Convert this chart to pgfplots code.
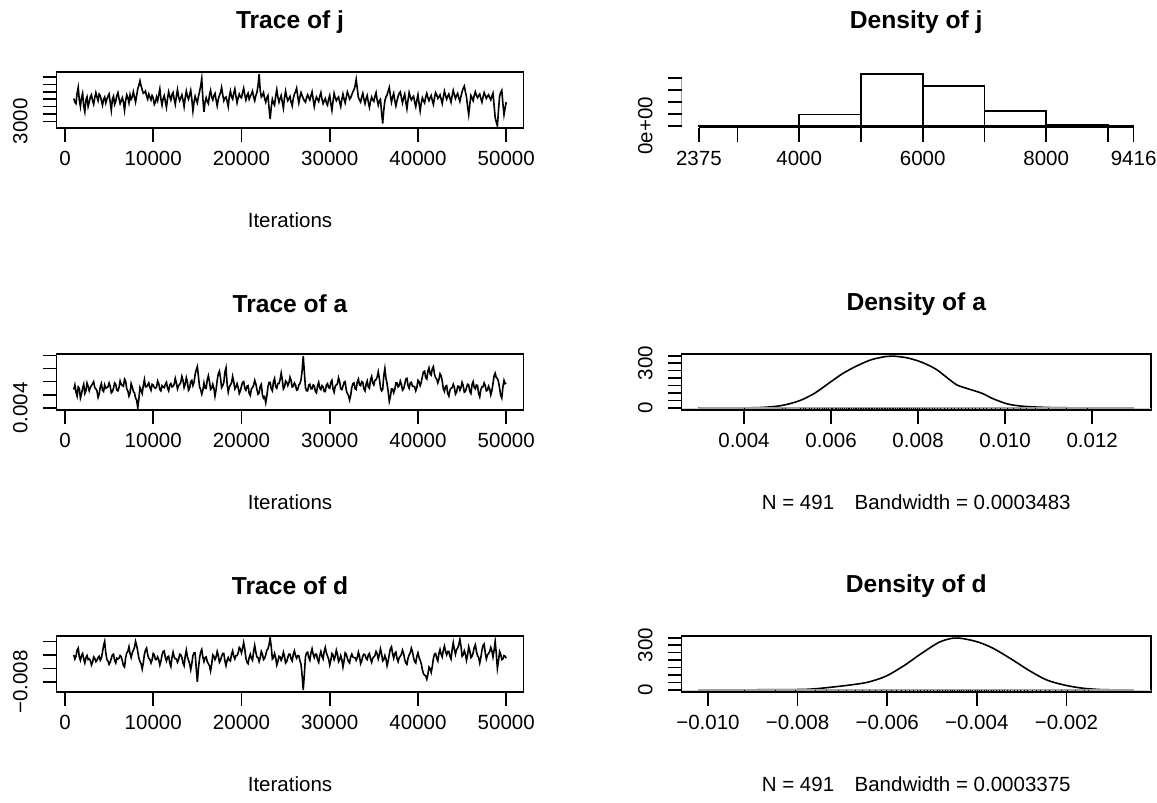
\documentclass[border=0pt]{standalone}
\usepackage{fontspec}
\setmainfont{Liberation Sans}
\usepackage{pgfplots}
\pgfplotsset{compat=1.18}

\pgfplotsset{
  rpanel/.style={
    scale only axis, height=28pt,
    enlargelimits=false, scaled ticks=false,
    axis line style={line width=0.8pt},
    every tick/.style={black, line width=0.8pt},
    tick align=outside, major tick length=7pt,
    xtick pos=left, ytick pos=left,
    tick label style={font=\fontsize{10.25}{12}\selectfont, inner sep=0pt},
    xticklabel style={anchor=north},
    yticklabel style={rotate=90, anchor=south},
    xticklabel shift=4.3pt, yticklabel shift=7.3pt,
    title style={font=\bfseries\fontsize{12.3}{14}\selectfont, at={(axis description cs:0.5,1)}, anchor=center, yshift=19pt},
    xlabel style={font=\fontsize{10.25}{12}\selectfont, at={(axis description cs:0.5,0)}, anchor=center, yshift=-46pt},
  },
  trace/.style={rpanel, width=233.5pt, xmin=-960, xmax=51960,
    xtick={0,10000,20000,30000,40000,50000},
    xticklabels={0,10000,20000,30000,40000,50000}, xlabel={Iterations}},
  dens/.style={rpanel, width=234.75pt},
  rline/.style={black, line width=0.8pt},
  rug/.style={only marks, mark=|, mark size=0.6pt, black, mark options={line width=0.4pt}},
}

\begin{document}
\begin{tikzpicture}
\path[use as bounding box] (0,0) rectangle (578.5pt,401.5pt);

% ---- row 1: j
\begin{axis}[trace, at={(28.25pt,337.5pt)}, anchor=south west, title={Trace of j},
  ymin=2093, ymax=9698, ytick={3000,4000,5000,6000,7000,8000,9000}, yticklabels={3000,,,,,,}]
\addplot[rline] coordinates {
(1000,6100) (1125,5600) (1250,5400) (1375,6800) (1500,7600) (1625,5900) (1750,5000) (1875,6200)
(2000,6800) (2125,5100) (2250,4300) (2375,5900) (2500,6300) (2625,5000) (2750,5600) (2875,6300)
(3000,6600) (3125,5800) (3250,5300) (3375,6200) (3500,6900) (3625,6300) (3750,5800) (3875,6700)
(4000,6500) (4125,5800) (4250,5200) (4375,6000) (4500,6300) (4625,5500) (4750,6000) (4875,6400)
(5000,6700) (5125,5600) (5250,4500) (5375,6000) (5500,6400) (5625,5300) (5750,5700) (5875,6500)
(6000,6900) (6125,6100) (6250,5400) (6375,5800) (6500,6200) (6625,5600) (6750,4500) (6875,5800)
(7000,6600) (7125,6200) (7250,5500) (7375,6600) (7500,6000) (7625,6300) (7750,7000) (7875,6300)
(8000,5600) (8125,6500) (8250,7400) (8375,7900) (8500,8500) (8625,7800) (8750,7300) (8875,6800)
(9000,6900) (9125,7100) (9250,6400) (9375,6000) (9500,6700) (9625,6300) (9750,5900) (9875,6500)
(10000,6200) (10125,5300) (10250,5600) (10375,6300) (10500,5800) (10625,6600) (10750,7400) (10875,6000)
(11000,5200) (11125,6100) (11250,6500) (11375,5700) (11500,4900) (11625,6100) (11750,7000) (11875,6400)
(12000,5900) (12125,6600) (12250,6900) (12375,6000) (12500,5300) (12625,6400) (12750,7300) (12875,6300)
(13000,5800) (13125,6200) (13250,6600) (13375,5900) (13500,5000) (13625,6200) (13750,7100) (13875,6400)
(14000,6000) (14125,6600) (14250,7200) (14375,6000) (14500,4400) (14625,5600) (14750,6400) (14875,5900)
(15000,5500) (15125,6400) (15250,7000) (15375,7800) (15500,8800) (15625,6100) (15750,4300) (15875,5600)
(16000,6200) (16125,5700) (16250,5400) (16375,6600) (16500,7200) (16625,6300) (16750,5900) (16875,6500)
(17000,6800) (17125,5900) (17250,5100) (17375,6000) (17500,6500) (17625,6900) (17750,7600) (17875,6600)
(18000,5800) (18125,6200) (18250,6300) (18375,5700) (18500,5000) (18625,6400) (18750,7100) (18875,6300)
(19000,6000) (19125,6800) (19250,7400) (19375,6400) (19500,5500) (19625,6200) (19750,6700) (19875,6300)
(20000,6200) (20125,6900) (20250,7500) (20375,6600) (20500,5900) (20625,6500) (20750,6800) (20875,6000)
(21000,6400) (21125,6700) (21250,7100) (21375,6300) (21500,5800) (21625,6500) (21750,6900) (21875,7800)
(22000,9416) (22125,7200) (22250,6300) (22375,6500) (22500,6900) (22625,6100) (22750,5600) (22875,6200)
(23000,6500) (23125,4800) (23250,3300) (23375,4900) (23500,6000) (23625,5500) (23750,5200) (23875,6400)
(24000,7300) (24125,6300) (24250,5600) (24375,6100) (24500,6500) (24625,5600) (24750,4800) (24875,6200)
(25000,7100) (25125,6300) (25250,5800) (25375,6100) (25500,6400) (25625,5600) (25750,5100) (25875,6100)
(26000,6700) (26125,7000) (26250,7500) (26375,6400) (26500,5500) (26625,6300) (26750,6900) (26875,6500)
(27000,6100) (27125,5800) (27250,5600) (27375,6200) (27500,6600) (27625,6200) (27750,5900) (27875,6500)
(28000,7000) (28125,6000) (28250,5000) (28375,5800) (28500,6300) (28625,6000) (28750,5700) (28875,6400)
(29000,6900) (29125,6000) (29250,5400) (29375,5800) (29500,6100) (29625,5500) (29750,5200) (29875,6000)
(30000,6500) (30125,5400) (30250,4500) (30375,5700) (30500,6800) (30625,6200) (30750,5800) (30875,6100)
(31000,6300) (31125,5600) (31250,5000) (31375,6000) (31500,6700) (31625,6000) (31750,5500) (31875,6300)
(32000,7000) (32125,6600) (32250,6000) (32375,6200) (32500,6600) (32625,7000) (32750,7300) (32875,7800)
(33000,8700) (33125,7400) (33250,6200) (33375,5900) (33500,5600) (33625,6300) (33750,6800) (33875,6000)
(34000,5400) (34125,6100) (34250,6500) (34375,5600) (34500,4900) (34625,5700) (34750,6300) (34875,5900)
(35000,5700) (35125,6400) (35250,6900) (35375,5900) (35500,5200) (35625,5800) (35750,6000) (35875,4200)
(36000,2700) (36125,4500) (36250,5800) (36375,6300) (36500,6600) (36625,7100) (36750,7600) (36875,6500)
(37000,5600) (37125,6300) (37250,6800) (37375,5800) (37500,5100) (37625,5800) (37750,6400) (37875,6800)
(38000,7000) (38125,6200) (38250,5500) (38375,6200) (38500,6700) (38625,5600) (38750,4700) (38875,5900)
(39000,6900) (39125,6300) (39250,5900) (39375,6200) (39500,6400) (39625,5600) (39750,5000) (39875,5900)
(40000,6600) (40125,5400) (40250,4400) (40375,5500) (40500,6200) (40625,5800) (40750,5500) (40875,6300)
(41000,6800) (41125,6200) (41250,5800) (41375,6200) (41500,6500) (41625,5800) (41750,5300) (41875,6200)
(42000,6900) (42125,6600) (42250,6100) (42375,6300) (42500,6600) (42625,6000) (42750,5400) (42875,6300)
(43000,7100) (43125,6500) (43250,6000) (43375,6400) (43500,6700) (43625,6100) (43750,5600) (43875,6500)
(44000,7200) (44125,6600) (44250,6100) (44375,6500) (44500,6800) (44625,6200) (44750,5700) (44875,6400)
(45000,7000) (45125,7500) (45250,7800) (45375,7000) (45500,6300) (45625,5000) (45750,3900) (45875,5300)
(46000,6500) (46125,6200) (46250,5800) (46375,6500) (46500,7000) (46625,6500) (46750,6200) (46875,6500)
(47000,6700) (47125,6100) (47250,5600) (47375,6300) (47500,6900) (47625,6500) (47750,6100) (47875,6400)
(48000,6600) (48125,6200) (48250,5900) (48375,6400) (48500,6800) (48625,5200) (48750,3500) (48875,2900)
(49000,2375) (49125,4500) (49250,6400) (49375,6900) (49500,7200) (49625,5400) (49750,3900) (49875,4800)
(50000,5600)
};
\end{axis}

\begin{axis}[dens, at={(340.75pt,337.5pt)}, anchor=south west, title={Density of j},
  axis x line*=bottom, axis y line*=left, axis line style={draw=none},
  xmin=2093.4, xmax=9697.6, ymin=-0.174, ymax=4.524,
  xtick={2375,3000,4000,5000,6000,7000,8000,9000,9416},
  xticklabels={2375,,4000,,6000,,8000,,9416},
  ytick={0,1,2,3,4}, yticklabels={0e+00,,,,}]
\addplot[ybar interval, draw=black, fill=none, line width=0.8pt] coordinates {
(2375,0.02) (4000,0.95) (5000,4.35) (6000,3.33) (7000,1.24) (8000,0.09) (9000,0.05) (9416,0.05)};
\draw[line width=0.8pt] (axis cs:2375,-0.174) -- (axis cs:9416,-0.174);
\draw[line width=0.8pt] (axis cs:2093.4,0) -- (axis cs:2093.4,4);
\end{axis}

% ---- row 2: a
\begin{axis}[trace, at={(28.25pt,196.5pt)}, anchor=south west, title={Trace of a},
  ymin=0.003684, ymax=0.012216, ytick={0.004,0.006,0.008,0.010,0.012}, yticklabels={0.004,,,,}]
\addplot[rline] coordinates {
(1000,68e-4) (1125,75e-4) (1250,64e-4) (1375,58e-4) (1500,72e-4) (1625,70e-4) (1750,55e-4) (1875,61e-4)
(2000,70e-4) (2125,76e-4) (2250,62e-4) (2375,66e-4) (2500,78e-4) (2625,73e-4) (2750,66e-4) (2875,71e-4)
(3000,74e-4) (3125,77e-4) (3250,80e-4) (3375,71e-4) (3500,69e-4) (3625,66e-4) (3750,56e-4) (3875,61e-4)
(4000,72e-4) (4125,77e-4) (4250,67e-4) (4375,65e-4) (4500,75e-4) (4625,70e-4) (4750,71e-4) (4875,72e-4)
(5000,78e-4) (5125,73e-4) (5250,63e-4) (5375,65e-4) (5500,70e-4) (5625,78e-4) (5750,76e-4) (5875,67e-4)
(6000,66e-4) (6125,71e-4) (6250,81e-4) (6375,76e-4) (6500,74e-4) (6625,73e-4) (6750,84e-4) (6875,81e-4)
(7000,69e-4) (7125,66e-4) (7250,58e-4) (7375,63e-4) (7500,77e-4) (7625,72e-4) (7750,65e-4) (7875,63e-4)
(8000,55e-4) (8125,52e-4) (8250,40e-4) (8375,54e-4) (8500,71e-4) (8625,67e-4) (8750,62e-4) (8875,74e-4)
(9000,83e-4) (9125,72e-4) (9250,72e-4) (9375,75e-4) (9500,78e-4) (9625,71e-4) (9750,67e-4) (9875,76e-4)
(10000,75e-4) (10125,71e-4) (10250,70e-4) (10375,72e-4) (10500,81e-4) (10625,77e-4) (10750,68e-4) (10875,66e-4)
(11000,74e-4) (11125,72e-4) (11250,71e-4) (11375,76e-4) (11500,79e-4) (11625,70e-4) (11750,66e-4) (11875,75e-4)
(12000,77e-4) (12125,72e-4) (12250,73e-4) (12375,76e-4) (12500,85e-4) (12625,78e-4) (12750,69e-4) (12875,74e-4)
(13000,76e-4) (13125,79e-4) (13250,88e-4) (13375,82e-4) (13500,71e-4) (13625,76e-4) (13750,86e-4) (13875,79e-4)
(14000,67e-4) (14125,70e-4) (14250,80e-4) (14375,82e-4) (14500,74e-4) (14625,79e-4) (14750,91e-4) (14875,98e-4)
(15000,103e-4) (15125,88e-4) (15250,72e-4) (15375,68e-4) (15500,61e-4) (15625,67e-4) (15750,78e-4) (15875,70e-4)
(16000,70e-4) (16125,83e-4) (16250,89e-4) (16375,80e-4) (16500,68e-4) (16625,70e-4) (16750,76e-4) (16875,70e-4)
(17000,58e-4) (17125,68e-4) (17250,82e-4) (17375,92e-4) (17500,96e-4) (17625,86e-4) (17750,71e-4) (17875,74e-4)
(18000,79e-4) (18125,95e-4) (18250,101e-4) (18375,76e-4) (18500,64e-4) (18625,72e-4) (18750,75e-4) (18875,78e-4)
(19000,88e-4) (19125,80e-4) (19250,69e-4) (19375,72e-4) (19500,77e-4) (19625,71e-4) (19750,62e-4) (19875,66e-4)
(20000,73e-4) (20125,79e-4) (20250,80e-4) (20375,70e-4) (20500,67e-4) (20625,73e-4) (20750,74e-4) (20875,62e-4)
(21000,59e-4) (21125,69e-4) (21250,71e-4) (21375,74e-4) (21500,82e-4) (21625,77e-4) (21750,68e-4) (21875,61e-4)
(22000,63e-4) (22125,73e-4) (22250,76e-4) (22375,60e-4) (22500,55e-4) (22625,57e-4) (22750,48e-4) (22875,58e-4)
(23000,72e-4) (23125,79e-4) (23250,79e-4) (23375,69e-4) (23500,66e-4) (23625,80e-4) (23750,85e-4) (23875,72e-4)
(24000,70e-4) (24125,77e-4) (24250,77e-4) (24375,83e-4) (24500,93e-4) (24625,83e-4) (24750,69e-4) (24875,72e-4)
(25000,81e-4) (25125,79e-4) (25250,74e-4) (25375,78e-4) (25500,87e-4) (25625,82e-4) (25750,72e-4) (25875,73e-4)
(26000,78e-4) (26125,75e-4) (26250,67e-4) (26375,68e-4) (26500,75e-4) (26625,77e-4) (26750,83e-4) (26875,97e-4)
(27000,119e-4) (27125,95e-4) (27250,71e-4) (27375,66e-4) (27500,66e-4) (27625,75e-4) (27750,76e-4) (27875,69e-4)
(28000,69e-4) (28125,75e-4) (28250,74e-4) (28375,65e-4) (28500,63e-4) (28625,74e-4) (28750,79e-4) (28875,70e-4)
(29000,68e-4) (29125,74e-4) (29250,72e-4) (29375,65e-4) (29500,65e-4) (29625,75e-4) (29750,77e-4) (29875,71e-4)
(30000,70e-4) (30125,79e-4) (30250,82e-4) (30375,69e-4) (30500,64e-4) (30625,73e-4) (30750,75e-4) (30875,77e-4)
(31000,86e-4) (31125,80e-4) (31250,69e-4) (31375,68e-4) (31500,73e-4) (31625,79e-4) (31750,80e-4) (31875,67e-4)
(32000,62e-4) (32125,59e-4) (32250,52e-4) (32375,59e-4) (32500,71e-4) (32625,77e-4) (32750,78e-4) (32875,69e-4)
(33000,68e-4) (33125,80e-4) (33250,84e-4) (33375,75e-4) (33500,74e-4) (33625,80e-4) (33750,79e-4) (33875,69e-4)
(34000,66e-4) (34125,76e-4) (34250,81e-4) (34375,72e-4) (34500,70e-4) (34625,83e-4) (34750,88e-4) (34875,78e-4)
(35000,75e-4) (35125,82e-4) (35250,83e-4) (35375,87e-4) (35500,95e-4) (35625,85e-4) (35750,71e-4) (35875,66e-4)
(36000,68e-4) (36125,89e-4) (36250,100e-4) (36375,85e-4) (36500,77e-4) (36625,65e-4) (36750,50e-4) (36875,57e-4)
(37000,69e-4) (37125,69e-4) (37250,63e-4) (37375,68e-4) (37500,78e-4) (37625,78e-4) (37750,72e-4) (37875,74e-4)
(38000,81e-4) (38125,76e-4) (38250,67e-4) (38375,69e-4) (38500,76e-4) (38625,84e-4) (38750,85e-4) (38875,74e-4)
(39000,70e-4) (39125,78e-4) (39250,79e-4) (39375,73e-4) (39500,73e-4) (39625,72e-4) (39750,66e-4) (39875,71e-4)
(40000,82e-4) (40125,80e-4) (40250,74e-4) (40375,79e-4) (40500,88e-4) (40625,95e-4) (40750,96e-4) (40875,86e-4)
(41000,84e-4) (41125,96e-4) (41250,101e-4) (41375,92e-4) (41500,90e-4) (41625,100e-4) (41750,103e-4) (41875,91e-4)
(42000,86e-4) (42125,84e-4) (42250,78e-4) (42375,83e-4) (42500,92e-4) (42625,89e-4) (42750,81e-4) (42875,69e-4)
(43000,65e-4) (43125,73e-4) (43250,74e-4) (43375,62e-4) (43500,58e-4) (43625,67e-4) (43750,70e-4) (43875,71e-4)
(44000,76e-4) (44125,71e-4) (44250,61e-4) (44375,64e-4) (44500,73e-4) (44625,73e-4) (44750,67e-4) (44875,71e-4)
(45000,79e-4) (45125,74e-4) (45250,64e-4) (45375,65e-4) (45500,71e-4) (45625,76e-4) (45750,75e-4) (45875,65e-4)
(46000,62e-4) (46125,75e-4) (46250,80e-4) (46375,71e-4) (46500,69e-4) (46625,75e-4) (46750,74e-4) (46875,62e-4)
(47000,57e-4) (47125,68e-4) (47250,72e-4) (47375,72e-4) (47500,78e-4) (47625,74e-4) (47750,66e-4) (47875,67e-4)
(48000,73e-4) (48125,69e-4) (48250,60e-4) (48375,66e-4) (48500,77e-4) (48625,89e-4) (48750,93e-4) (48875,86e-4)
(49000,85e-4) (49125,80e-4) (49250,70e-4) (49375,59e-4) (49500,55e-4) (49625,72e-4) (49750,82e-4) (49875,77e-4)
(50000,78e-4)
};
\end{axis}

\begin{axis}[dens, at={(340.75pt,196.5pt)}, anchor=south west, title={Density of a},
  xmin=0.002564, xmax=0.013352, ymin=-13.9, ymax=361.9,
  xtick={0.004,0.006,0.008,0.010,0.012}, xticklabels={0.004,0.006,0.008,0.010,0.012},
  ytick={0,50,100,150,200,250,300,350}, yticklabels={0,,,,,,300,},
  xlabel={N = 491\quad Bandwidth = 0.0003483}]
\addplot[rline, smooth] coordinates {
(0.00295,0) (0.0040,0.3) (0.00439,2.8) (0.00471,9.9) (0.00496,21.8) (0.00529,50) (0.00562,98) (0.00594,164)
(0.00627,231) (0.0066,283) (0.00693,324) (0.00726,345) (0.00742,348) (0.00775,336) (0.00808,307) (0.00841,260)
(0.00873,188) (0.0089,153) (0.00914,129) (0.00947,98) (0.00972,62) (0.01005,27) (0.01038,12) (0.01079,5)
(0.01136,1) (0.01296,0)};
\addplot[gray!35, line width=0.4pt] coordinates {(0.002564,0) (0.013352,0)};
\addplot[gray!75, line width=0.8pt] coordinates {(0.00296,0) (0.01296,0)};
\addplot[rug] coordinates {
(40.0e-4,-8) (48.8e-4,-8) (49.5e-4,-8) (53.0e-4,-8) (53.6e-4,-8) (54.2e-4,-8) (55.0e-4,-8) (55.6e-4,-8) (56.1e-4,-8) (56.8e-4,-8)
(57.3e-4,-8) (57.9e-4,-8) (58.4e-4,-8) (58.9e-4,-8) (59.5e-4,-8) (60.0e-4,-8) (60.4e-4,-8) (60.9e-4,-8) (61.3e-4,-8) (61.8e-4,-8)
(62.2e-4,-8) (62.6e-4,-8) (63.0e-4,-8) (63.5e-4,-8) (63.9e-4,-8) (64.3e-4,-8) (64.7e-4,-8) (65.1e-4,-8) (65.5e-4,-8) (65.9e-4,-8)
(66.3e-4,-8) (66.7e-4,-8) (67.0e-4,-8) (67.4e-4,-8) (67.8e-4,-8) (68.2e-4,-8) (68.5e-4,-8) (68.9e-4,-8) (69.3e-4,-8) (69.6e-4,-8)
(70.0e-4,-8) (70.4e-4,-8) (70.7e-4,-8) (71.1e-4,-8) (71.5e-4,-8) (71.8e-4,-8) (72.2e-4,-8) (72.6e-4,-8) (72.9e-4,-8) (73.3e-4,-8)
(73.7e-4,-8) (74.0e-4,-8) (74.4e-4,-8) (74.8e-4,-8) (75.2e-4,-8) (75.6e-4,-8) (76.0e-4,-8) (76.4e-4,-8) (76.8e-4,-8) (77.2e-4,-8)
(77.6e-4,-8) (78.1e-4,-8) (78.5e-4,-8) (79.0e-4,-8) (79.4e-4,-8) (79.9e-4,-8) (80.4e-4,-8) (80.9e-4,-8) (81.4e-4,-8) (82.0e-4,-8)
(82.6e-4,-8) (83.2e-4,-8) (83.8e-4,-8) (84.5e-4,-8) (85.2e-4,-8) (86.0e-4,-8) (86.8e-4,-8) (87.6e-4,-8) (88.4e-4,-8) (89.2e-4,-8)
(90.0e-4,-8) (90.8e-4,-8) (91.6e-4,-8) (92.4e-4,-8) (93.2e-4,-8) (94.0e-4,-8) (94.9e-4,-8) (95.8e-4,-8) (96.8e-4,-8) (97.8e-4,-8)
(99.0e-4,-8) (100.5e-4,-8) (102.0e-4,-8) (103.5e-4,-8) (105.0e-4,-8) (107.0e-4,-8) (110.0e-4,-8) (114.0e-4,-8) (119.0e-4,-8)
};
\end{axis}

% ---- row 3: d
\begin{axis}[trace, at={(28.25pt,55.5pt)}, anchor=south west, title={Trace of d},
  ymin=-0.009497, ymax=-0.001203, ytick={-0.008,-0.006,-0.004,-0.002}, yticklabels={−0.008,,,}]
\addplot[rline] coordinates {
(1000,-40e-4) (1125,-46e-4) (1250,-42e-4) (1375,-33e-4) (1500,-30e-4) (1625,-43e-4) (1750,-48e-4) (1875,-41e-4)
(2000,-38e-4) (2125,-46e-4) (2250,-52e-4) (2375,-44e-4) (2500,-41e-4) (2625,-47e-4) (2750,-46e-4) (2875,-48e-4)
(3000,-55e-4) (3125,-51e-4) (3250,-43e-4) (3375,-45e-4) (3500,-50e-4) (3625,-48e-4) (3750,-44e-4) (3875,-42e-4)
(4000,-48e-4) (4125,-45e-4) (4250,-36e-4) (4375,-26e-4) (4500,-20e-4) (4625,-37e-4) (4750,-47e-4) (4875,-49e-4)
(5000,-54e-4) (5125,-51e-4) (5250,-45e-4) (5375,-40e-4) (5500,-39e-4) (5625,-48e-4) (5750,-52e-4) (5875,-45e-4)
(6000,-46e-4) (6125,-45e-4) (6250,-41e-4) (6375,-43e-4) (6500,-49e-4) (6625,-56e-4) (6750,-58e-4) (6875,-44e-4)
(7000,-37e-4) (7125,-35e-4) (7250,-28e-4) (7375,-38e-4) (7500,-44e-4) (7625,-37e-4) (7750,-33e-4) (7875,-29e-4)
(8000,-20e-4) (8125,-26e-4) (8250,-35e-4) (8375,-45e-4) (8500,-50e-4) (8625,-53e-4) (8750,-61e-4) (8875,-52e-4)
(9000,-39e-4) (9125,-33e-4) (9250,-30e-4) (9375,-40e-4) (9500,-45e-4) (9625,-47e-4) (9750,-52e-4) (9875,-47e-4)
(10000,-38e-4) (10125,-40e-4) (10250,-47e-4) (10375,-47e-4) (10500,-43e-4) (10625,-47e-4) (10750,-55e-4) (10875,-49e-4)
(11000,-40e-4) (11125,-35e-4) (11250,-34e-4) (11375,-44e-4) (11500,-49e-4) (11625,-43e-4) (11750,-42e-4) (11875,-52e-4)
(12000,-57e-4) (12125,-44e-4) (12250,-36e-4) (12375,-43e-4) (12500,-46e-4) (12625,-46e-4) (12750,-51e-4) (12875,-47e-4)
(13000,-39e-4) (13125,-40e-4) (13250,-44e-4) (13375,-52e-4) (13500,-56e-4) (13625,-42e-4) (13750,-33e-4) (13875,-43e-4)
(14000,-48e-4) (14125,-53e-4) (14250,-62e-4) (14375,-53e-4) (14500,-41e-4) (14625,-37e-4) (14750,-37e-4) (14875,-60e-4)
(15000,-80e-4) (15125,-60e-4) (15250,-45e-4) (15375,-36e-4) (15500,-32e-4) (15625,-43e-4) (15750,-50e-4) (15875,-44e-4)
(16000,-43e-4) (16125,-50e-4) (16250,-53e-4) (16375,-56e-4) (16500,-64e-4) (16625,-54e-4) (16750,-40e-4) (16875,-42e-4)
(17000,-47e-4) (17125,-43e-4) (17250,-35e-4) (17375,-41e-4) (17500,-51e-4) (17625,-48e-4) (17750,-42e-4) (17875,-38e-4)
(18000,-38e-4) (18125,-49e-4) (18250,-56e-4) (18375,-48e-4) (18500,-44e-4) (18625,-48e-4) (18750,-49e-4) (18875,-39e-4)
(19000,-34e-4) (19125,-42e-4) (19250,-46e-4) (19375,-41e-4) (19500,-41e-4) (19625,-37e-4) (19750,-29e-4) (19875,-31e-4)
(20000,-37e-4) (20125,-31e-4) (20250,-22e-4) (20375,-31e-4) (20500,-45e-4) (20625,-51e-4) (20750,-53e-4) (20875,-44e-4)
(21000,-39e-4) (21125,-45e-4) (21250,-48e-4) (21375,-35e-4) (21500,-26e-4) (21625,-36e-4) (21750,-43e-4) (21875,-44e-4)
(22000,-50e-4) (22125,-44e-4) (22250,-35e-4) (22375,-39e-4) (22500,-47e-4) (22625,-45e-4) (22750,-40e-4) (22875,-33e-4)
(23000,-31e-4) (23125,-25e-4) (23250,-15e-4) (23375,-28e-4) (23500,-46e-4) (23625,-44e-4) (23750,-38e-4) (23875,-44e-4)
(24000,-55e-4) (24125,-50e-4) (24250,-42e-4) (24375,-43e-4) (24500,-48e-4) (24625,-44e-4) (24750,-36e-4) (24875,-42e-4)
(25000,-52e-4) (25125,-50e-4) (25250,-44e-4) (25375,-39e-4) (25500,-39e-4) (25625,-46e-4) (25750,-49e-4) (25875,-39e-4)
(26000,-34e-4) (26125,-41e-4) (26250,-45e-4) (26375,-41e-4) (26500,-41e-4) (26625,-49e-4) (26750,-54e-4) (26875,-71e-4)
(27000,-92e-4) (27125,-69e-4) (27250,-43e-4) (27375,-37e-4) (27500,-36e-4) (27625,-44e-4) (27750,-48e-4) (27875,-37e-4)
(28000,-31e-4) (28125,-39e-4) (28250,-44e-4) (28375,-39e-4) (28500,-39e-4) (28625,-47e-4) (28750,-51e-4) (28875,-41e-4)
(29000,-35e-4) (29125,-42e-4) (29250,-46e-4) (29375,-35e-4) (29500,-29e-4) (29625,-37e-4) (29750,-42e-4) (29875,-46e-4)
(30000,-55e-4) (30125,-48e-4) (30250,-38e-4) (30375,-40e-4) (30500,-47e-4) (30625,-42e-4) (30750,-33e-4) (30875,-39e-4)
(31000,-50e-4) (31125,-47e-4) (31250,-41e-4) (31375,-47e-4) (31500,-58e-4) (31625,-49e-4) (31750,-37e-4) (31875,-39e-4)
(32000,-45e-4) (32125,-50e-4) (32250,-52e-4) (32375,-43e-4) (32500,-39e-4) (32625,-43e-4) (32750,-44e-4) (32875,-44e-4)
(33000,-48e-4) (33125,-44e-4) (33250,-36e-4) (33375,-42e-4) (33500,-53e-4) (33625,-49e-4) (33750,-42e-4) (33875,-39e-4)
(34000,-40e-4) (34125,-45e-4) (34250,-47e-4) (34375,-40e-4) (34500,-38e-4) (34625,-46e-4) (34750,-51e-4) (34875,-45e-4)
(35000,-43e-4) (35125,-41e-4) (35250,-35e-4) (35375,-38e-4) (35500,-46e-4) (35625,-40e-4) (35750,-31e-4) (35875,-38e-4)
(36000,-49e-4) (36125,-47e-4) (36250,-41e-4) (36375,-46e-4) (36500,-56e-4) (36625,-49e-4) (36750,-39e-4) (36875,-31e-4)
(37000,-28e-4) (37125,-38e-4) (37250,-45e-4) (37375,-38e-4) (37500,-36e-4) (37625,-45e-4) (37750,-50e-4) (37875,-44e-4)
(38000,-42e-4) (38125,-39e-4) (38250,-33e-4) (38375,-38e-4) (38500,-47e-4) (38625,-52e-4) (38750,-54e-4) (38875,-45e-4)
(39000,-40e-4) (39125,-37e-4) (39250,-30e-4) (39375,-35e-4) (39500,-44e-4) (39625,-50e-4) (39750,-52e-4) (39875,-42e-4)
(40000,-37e-4) (40125,-44e-4) (40250,-48e-4) (40375,-53e-4) (40500,-62e-4) (40625,-68e-4) (40750,-70e-4) (40875,-71e-4)
(41000,-76e-4) (41125,-69e-4) (41250,-58e-4) (41375,-60e-4) (41500,-66e-4) (41625,-57e-4) (41750,-45e-4) (41875,-39e-4)
(42000,-38e-4) (42125,-45e-4) (42250,-49e-4) (42375,-38e-4) (42500,-32e-4) (42625,-39e-4) (42750,-43e-4) (42875,-33e-4)
(43000,-27e-4) (43125,-35e-4) (43250,-40e-4) (43375,-35e-4) (43500,-35e-4) (43625,-42e-4) (43750,-46e-4) (43875,-32e-4)
(44000,-22e-4) (44125,-32e-4) (44250,-39e-4) (44375,-32e-4) (44500,-30e-4) (44625,-25e-4) (44750,-17e-4) (44875,-27e-4)
(45000,-42e-4) (45125,-40e-4) (45250,-34e-4) (45375,-39e-4) (45500,-48e-4) (45625,-40e-4) (45750,-28e-4) (45875,-34e-4)
(46000,-44e-4) (46125,-42e-4) (46250,-37e-4) (46375,-29e-4) (46500,-25e-4) (46625,-35e-4) (46750,-41e-4) (46875,-44e-4)
(47000,-52e-4) (47125,-44e-4) (47250,-33e-4) (47375,-26e-4) (47500,-24e-4) (47625,-37e-4) (47750,-46e-4) (47875,-40e-4)
(48000,-38e-4) (48125,-35e-4) (48250,-29e-4) (48375,-34e-4) (48500,-43e-4) (48625,-33e-4) (48750,-20e-4) (48875,-38e-4)
(49000,-60e-4) (49125,-49e-4) (49250,-35e-4) (49375,-39e-4) (49500,-47e-4) (49625,-46e-4) (49750,-41e-4) (49875,-42e-4)
(50000,-45e-4)
};
\end{axis}

\begin{axis}[dens, at={(340.75pt,55.5pt)}, anchor=south west, title={Density of d},
  xmin=-0.010591, xmax=-0.000112, ymin=-13.9, ymax=361.9,
  xtick={-0.010,-0.008,-0.006,-0.004,-0.002}, xticklabels={−0.010,−0.008,−0.006,−0.004,−0.002},
  ytick={0,50,100,150,200,250,300,350}, yticklabels={0,,,,,,300,},
  xlabel={N = 491\quad Bandwidth = 0.0003375}]
\addplot[rline, smooth] coordinates {
(-0.01022,0) (-0.00922,0.5) (-0.00802,2.5) (-0.00763,7) (-0.00723,19) (-0.00683,33) (-0.00643,52) (-0.00603,92)
(-0.00563,162) (-0.00524,244) (-0.00484,320) (-0.00452,348) (-0.00428,343) (-0.00396,320) (-0.00364,280) (-0.00324,209)
(-0.00284,132) (-0.00245,68) (-0.00205,33) (-0.00165,12) (-0.00125,2.5) (-0.00093,0.5) (-0.0005,0)};
\addplot[gray!35, line width=0.4pt] coordinates {(-0.010591,0) (-0.000112,0)};
\addplot[gray!75, line width=0.8pt] coordinates {(-0.01022,0) (-0.0005,0)};
\addplot[rug] coordinates {
(-91.9e-4,-8) (-85.0e-4,-8) (-80.4e-4,-8) (-76.0e-4,-8) (-73.5e-4,-8) (-71.0e-4,-8) (-69.0e-4,-8) (-67.2e-4,-8) (-65.5e-4,-8) (-64.0e-4,-8)
(-62.6e-4,-8) (-61.3e-4,-8) (-60.1e-4,-8) (-59.0e-4,-8) (-57.9e-4,-8) (-56.9e-4,-8) (-55.9e-4,-8) (-55.0e-4,-8) (-54.1e-4,-8) (-53.3e-4,-8)
(-52.5e-4,-8) (-51.7e-4,-8) (-51.0e-4,-8) (-50.3e-4,-8) (-49.6e-4,-8) (-48.9e-4,-8) (-48.3e-4,-8) (-47.7e-4,-8) (-47.1e-4,-8) (-46.5e-4,-8)
(-46.0e-4,-8) (-45.4e-4,-8) (-44.9e-4,-8) (-44.4e-4,-8) (-43.9e-4,-8) (-43.4e-4,-8) (-42.9e-4,-8) (-42.4e-4,-8) (-41.9e-4,-8) (-41.4e-4,-8)
(-40.9e-4,-8) (-40.4e-4,-8) (-39.9e-4,-8) (-39.4e-4,-8) (-38.9e-4,-8) (-38.4e-4,-8) (-37.9e-4,-8) (-37.4e-4,-8) (-36.8e-4,-8) (-36.2e-4,-8)
(-35.6e-4,-8) (-35.0e-4,-8) (-34.4e-4,-8) (-33.8e-4,-8) (-33.1e-4,-8) (-32.4e-4,-8) (-31.7e-4,-8) (-31.0e-4,-8) (-30.2e-4,-8) (-29.4e-4,-8)
(-28.6e-4,-8) (-27.7e-4,-8) (-26.8e-4,-8) (-25.8e-4,-8) (-24.8e-4,-8) (-23.7e-4,-8) (-22.5e-4,-8) (-21.2e-4,-8) (-19.8e-4,-8) (-18.0e-4,-8)
(-16.0e-4,-8) (-15.1e-4,-8)
};
\end{axis}
\end{tikzpicture}
\end{document}
